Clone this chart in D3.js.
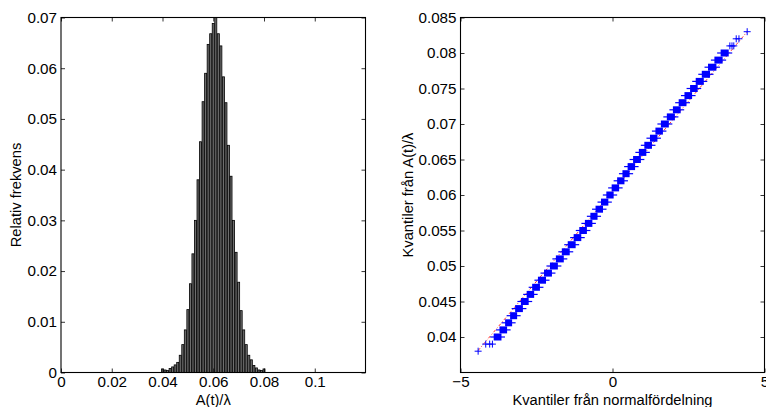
<!DOCTYPE html>
<html>
<head>
<meta charset="utf-8">
<script src="https://cdn.jsdelivr.net/npm/d3@7"></script>
<style>
	body { margin: 0; background: #fff; }
	svg text { font-family: "Liberation Sans", Arial, Helvetica, sans-serif; fill: #000; }
</style>
</head>
<body>
<div id="chart"></div>
<script>
// histogram: A(t)/lambda, bins of 0.001
var histBins = [0.040, 0.041, 0.042, 0.043, 0.044, 0.045, 0.046, 0.047, 0.048, 0.049,
	0.050, 0.051, 0.052, 0.053, 0.054, 0.055, 0.056, 0.057, 0.058, 0.059,
	0.060, 0.061, 0.062, 0.063, 0.064, 0.065, 0.066, 0.067, 0.068, 0.069,
	0.070, 0.071, 0.072, 0.073, 0.074, 0.075, 0.076, 0.077, 0.078, 0.079, 0.080];
var histFreq = [0.0007, 0.0005, 0.0004, 0.0008, 0.0011, 0.0015, 0.0020, 0.0034, 0.0055, 0.0084,
	0.0124, 0.0175, 0.0234, 0.0300, 0.0380, 0.0455, 0.0534, 0.0590, 0.0647, 0.0668,
	0.0688, 0.0705, 0.0668, 0.0644, 0.0583, 0.0532, 0.0448, 0.0387, 0.0300, 0.0237,
	0.0178, 0.0122, 0.0084, 0.0055, 0.0034, 0.0025, 0.0014, 0.0009, 0.0005, 0.0004, 0.0007];
var histXTicks = [0, 0.02, 0.04, 0.06, 0.08, 0.1];
var histXLabels = ["0", "0.02", "0.04", "0.06", "0.08", "0.1"];
var histYTicks = [0, 0.01, 0.02, 0.03, 0.04, 0.05, 0.06, 0.07];
var histYLabels = ["0", "0.01", "0.02", "0.03", "0.04", "0.05", "0.06", "0.07"];

// qq-plot: each level of A(t)/lambda and the centre of its normal-quantile run
var qqLevels = [0.040, 0.041, 0.042, 0.043, 0.044, 0.045, 0.046, 0.047, 0.048, 0.049,
	0.050, 0.051, 0.052, 0.053, 0.054, 0.055, 0.056, 0.057, 0.058, 0.059,
	0.060, 0.061, 0.062, 0.063, 0.064, 0.065, 0.066, 0.067, 0.068, 0.069,
	0.070, 0.071, 0.072, 0.073, 0.074, 0.075, 0.076, 0.077, 0.078, 0.079, 0.080];
var qqCenters = [-3.78, -3.59, -3.41, -3.26, -3.08, -2.88, -2.70, -2.52, -2.32, -2.12,
	-1.93, -1.73, -1.54, -1.34, -1.15, -0.97, -0.78, -0.61, -0.44, -0.25,
	-0.09, 0.10, 0.27, 0.45, 0.61, 0.81, 0.99, 1.17, 1.36, 1.53,
	1.72, 1.92, 2.12, 2.30, 2.50, 2.67, 2.87, 3.07, 3.28, 3.49, 3.69];
// the sparse points in the tails
var qqSingleX = [-4.42, -4.17, -4.04, -3.95, 3.86, 3.93, 3.99, 4.07, 4.16, 4.43];
var qqSingleY = [0.038, 0.039, 0.039, 0.039, 0.081, 0.081, 0.081, 0.082, 0.082, 0.083];
// reference line end points
var refLineX = [-4.42, 4.43];
var refLineY = [0.0381, 0.0830];
var qqXTicks = [-5, 0, 5];
var qqXLabels = ["\u22125", "0", "5"];
var qqYTicks = [0.04, 0.045, 0.05, 0.055, 0.06, 0.065, 0.07, 0.075, 0.08, 0.085];
var qqYLabels = ["0.04", "0.045", "0.05", "0.055", "0.06", "0.065", "0.07", "0.075", "0.08", "0.085"];

(function() {
	var width = 766,
		height = 407;

	var tickFont = 15.2,
		labelFont = 14.7;

	var svg = d3.select("#chart")
		.append("svg")
		.attr("width", width)
		.attr("height", height);

	// MATLAB style box with inward ticks on all four sides
	function boxAxes(g, x, y, xt, xl, yt, yl) {
		var x0 = x.range()[0], x1 = x.range()[1],
			y0 = y.range()[0], y1 = y.range()[1];

		g.append("g")
			.attr("transform", "translate(0," + y0 + ")")
			.call(d3.axisBottom(x).tickValues(xt).tickFormat(function(d, i) { return xl[i] }).tickSize(-4).tickPadding(4))
			.call(styleAxis);
		g.append("g")
			.attr("transform", "translate(0," + y1 + ")")
			.call(d3.axisTop(x).tickValues(xt).tickFormat("").tickSize(-4))
			.call(styleAxis);
		g.append("g")
			.attr("transform", "translate(" + x0 + ",0)")
			.call(d3.axisLeft(y).tickValues(yt).tickFormat(function(d, i) { return yl[i] }).tickSize(-4).tickPadding(4))
			.call(styleAxis);
		g.append("g")
			.attr("transform", "translate(" + x1 + ",0)")
			.call(d3.axisRight(y).tickValues(yt).tickFormat("").tickSize(-4))
			.call(styleAxis);

		g.append("rect")
			.attr("x", x0)
			.attr("y", y1)
			.attr("width", x1 - x0)
			.attr("height", y0 - y1)
			.attr("fill", "none")
			.attr("stroke", "#000")
			.attr("stroke-width", 1.1);
	}

	function styleAxis(a) {
		a.select(".domain").remove();
		a.selectAll(".tick line").attr("stroke", "#000").attr("stroke-width", 0.8);
		a.selectAll(".tick text")
			.attr("font-size", tickFont)
			.attr("font-family", null);
	}

	// ---------- left: histogram ----------
	var hx = d3.scaleLinear().domain([0, 0.12]).range([61, 365.5]);
	var hy = d3.scaleLinear().domain([0, 0.07]).range([372.5, 17.5]);

	var left = svg.append("g");

	left.append("clipPath")
		.attr("id", "histclip")
		.append("rect")
		.attr("x", hx.range()[0])
		.attr("y", hy.range()[1])
		.attr("width", hx.range()[1] - hx.range()[0])
		.attr("height", hy.range()[0] - hy.range()[1]);

	var binW = 0.001;

	left.append("g")
		.attr("clip-path", "url(#histclip)")
		.selectAll(".bar")
		.data(histBins)
		.enter().append("rect")
		.attr("class", "bar")
		.attr("x", function(d) { return hx(d - binW * 0.4) })
		.attr("width", hx(binW * 0.8) - hx(0))
		.attr("y", function(d, i) { return hy(histFreq[i]) })
		.attr("height", function(d, i) { return hy(0) - hy(histFreq[i]) })
		.attr("fill", "#6e6e6e")
		.attr("stroke", "#000")
		.attr("stroke-width", 0.8);

	boxAxes(left, hx, hy, histXTicks, histXLabels, histYTicks, histYLabels);

	left.append("text")
		.attr("x", (hx.range()[0] + hx.range()[1]) / 2)
		.attr("y", 404.5)
		.attr("text-anchor", "middle")
		.attr("font-size", labelFont)
		.text("A(t)/\u03bb");

	left.append("text")
		.attr("transform", "translate(20.5," + (hy.range()[0] + hy.range()[1]) / 2 + ") rotate(-90)")
		.attr("text-anchor", "middle")
		.attr("font-size", labelFont)
		.text("Relativ frekvens");

	// ---------- right: normal qq-plot ----------
	var qx = d3.scaleLinear().domain([-5, 5]).range([460.5, 764.5]);
	var qy = d3.scaleLinear().domain([0.035, 0.085]).range([372.5, 17.5]);

	var right = svg.append("g");

	// each level covers the quantiles half way to its neighbours
	var runs = qqLevels.map(function(v, i) {
		var c = qqCenters[i];
		var prev = i > 0 ? qqCenters[i - 1] : c - (qqCenters[1] - qqCenters[0]);
		var next = i < qqCenters.length - 1 ? qqCenters[i + 1] : c + (c - qqCenters[i - 1]);
		return { y: v, lo: (prev + c) / 2, hi: (c + next) / 2 };
	});

	var ms = 3.5; // half size of the + marker

	right.append("path")
		.attr("d", d3.line()
			.x(function(d, i) { return qx(refLineX[i]) })
			.y(function(d, i) { return qy(refLineY[i]) })(refLineX))
		.attr("fill", "none")
		.attr("stroke", "#ff0000")
		.attr("stroke-width", 0.8)
		.attr("stroke-dasharray", "3,2,1,2");

	var run = right.selectAll(".run")
		.data(runs)
		.enter().append("g")
		.attr("class", "run");

	// vertical arms of the stacked markers
	run.append("rect")
		.attr("x", function(d) { return qx(d.lo) - 1 })
		.attr("y", function(d) { return qy(d.y) - ms })
		.attr("width", function(d) { return qx(d.hi) - qx(d.lo) + 2 })
		.attr("height", ms * 2)
		.attr("fill", "#0000ff");

	// horizontal arms
	run.append("line")
		.attr("x1", function(d) { return qx(d.lo) - ms - 1 })
		.attr("x2", function(d) { return qx(d.hi) + ms + 1 })
		.attr("y1", function(d) { return qy(d.y) })
		.attr("y2", function(d) { return qy(d.y) })
		.attr("stroke", "#0000ff")
		.attr("stroke-width", 1.2);

	right.selectAll(".single")
		.data(qqSingleX)
		.enter().append("path")
		.attr("class", "single")
		.attr("d", function(d, i) {
			var cx = qx(d), cy = qy(qqSingleY[i]);
			return "M" + (cx - ms) + "," + cy + "H" + (cx + ms) + "M" + cx + "," + (cy - ms) + "V" + (cy + ms);
		})
		.attr("stroke", "#0000ff")
		.attr("stroke-width", 1)
		.attr("fill", "none");

	boxAxes(right, qx, qy, qqXTicks, qqXLabels, qqYTicks, qqYLabels);

	right.append("text")
		.attr("x", (qx.range()[0] + qx.range()[1]) / 2)
		.attr("y", 404.5)
		.attr("text-anchor", "middle")
		.attr("font-size", labelFont)
		.text("Kvantiler fr\u00e5n normalf\u00f6rdelning");

	right.append("text")
		.attr("transform", "translate(412.5," + (qy.range()[0] + qy.range()[1]) / 2 + ") rotate(-90)")
		.attr("text-anchor", "middle")
		.attr("font-size", labelFont)
		.text("Kvantiler fr\u00e5n A(t)/\u03bb");
})();
</script>
</body>
</html>
